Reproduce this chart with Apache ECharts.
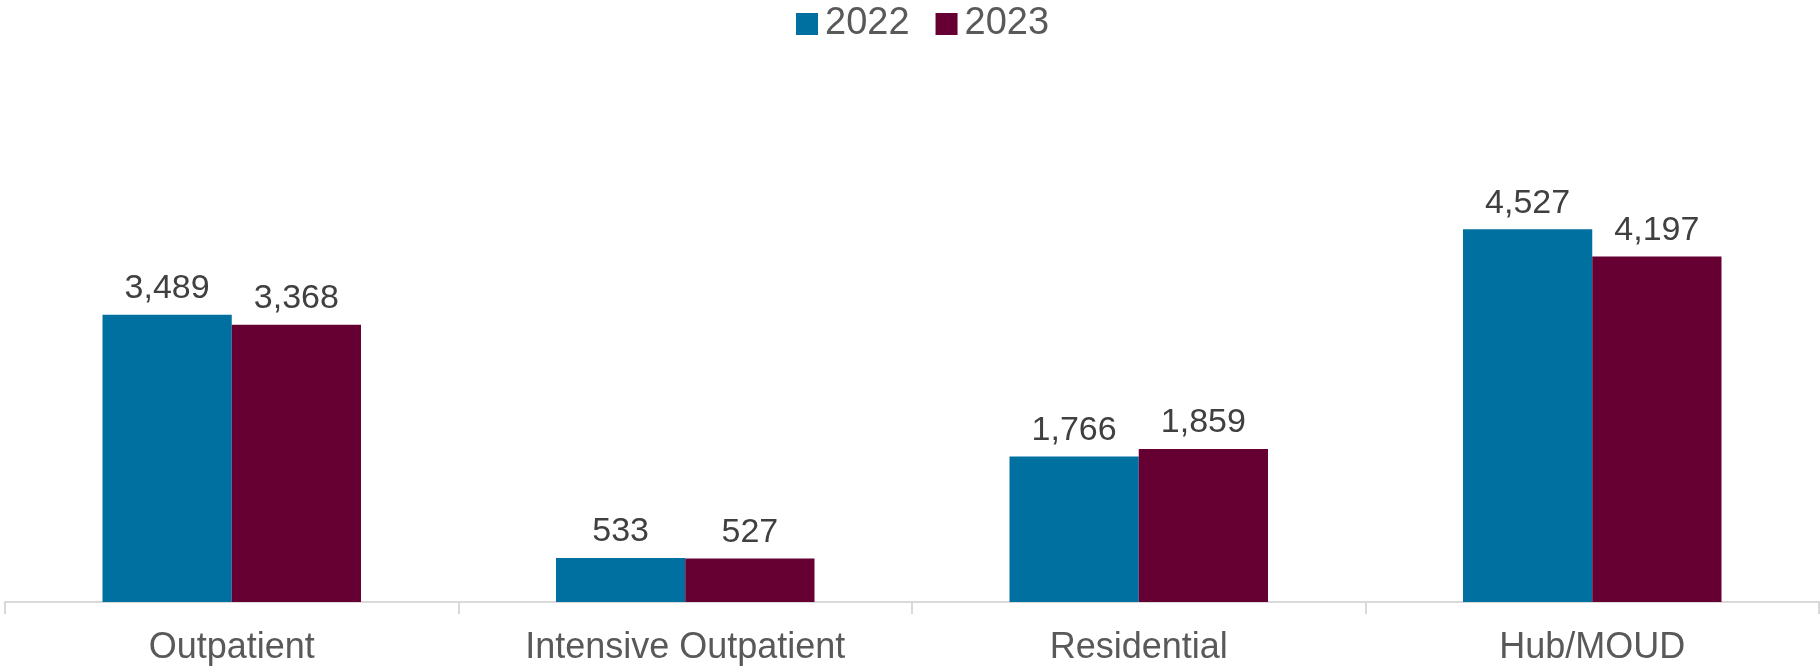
<!DOCTYPE html>
<html>
<head>
<meta charset="utf-8">
<script src="https://cdn.jsdelivr.net/npm/echarts@6/dist/echarts.min.js"></script>
<style>
  html, body { margin: 0; padding: 0; background: #fff; }
  #chart { width: 1820px; height: 666px; }
</style>
</head>
<body>
<div id="chart"></div>
<script>
var categories = ['Outpatient', 'Intensive Outpatient', 'Residential', 'Hub/MOUD'];
var years = ['2022', '2023'];
var values2022 = [3489, 533, 1766, 4527];
var values2023 = [3368, 527, 1859, 4197];

var fontFamily = '"Liberation Sans", Arial, sans-serif';

var myChart = echarts.init(document.getElementById('chart'));

function barSeries(name, data, color) {
    return {
        name: name,
        type: 'bar',
        data: data,
        barGap: '0%',
        barCategoryGap: '43%',
        itemStyle: { color: color },
        label: {
            show: true,
            position: 'top',
            distance: 9,
            color: '#404040',
            fontSize: 34,
            fontFamily: fontFamily,
            formatter: function (p) {
                return p.value.toLocaleString('en-US');
            }
        }
    };
}

var option = {
    animation: false,
    legend: {
        data: years,
        top: 0,
        left: 791,
        padding: 5,
        itemWidth: 22,
        itemHeight: 22,
        itemGap: 26,
        icon: 'rect',
        textStyle: { color: '#595959', fontSize: 38, fontFamily: fontFamily, padding: [0, 0, 0, 2] }
    },
    grid: { left: 5, right: 1, top: 108, bottom: 64, containLabel: false },
    xAxis: {
        type: 'category',
        data: categories,
        axisLine: { lineStyle: { color: '#d9d9d9', width: 2 } },
        axisTick: { show: true, length: 12, lineStyle: { color: '#d9d9d9', width: 2 } },
        axisLabel: { color: '#595959', fontSize: 36, fontFamily: fontFamily, margin: 28 }
    },
    yAxis: {
        type: 'value',
        min: 0,
        max: 6000,
        show: false,
        splitLine: { show: false }
    },
    series: [
        barSeries(years[0], values2022, '#0070a0'),
        barSeries(years[1], values2023, '#660033')
    ]
};

myChart.setOption(option);
</script>
</body>
</html>
